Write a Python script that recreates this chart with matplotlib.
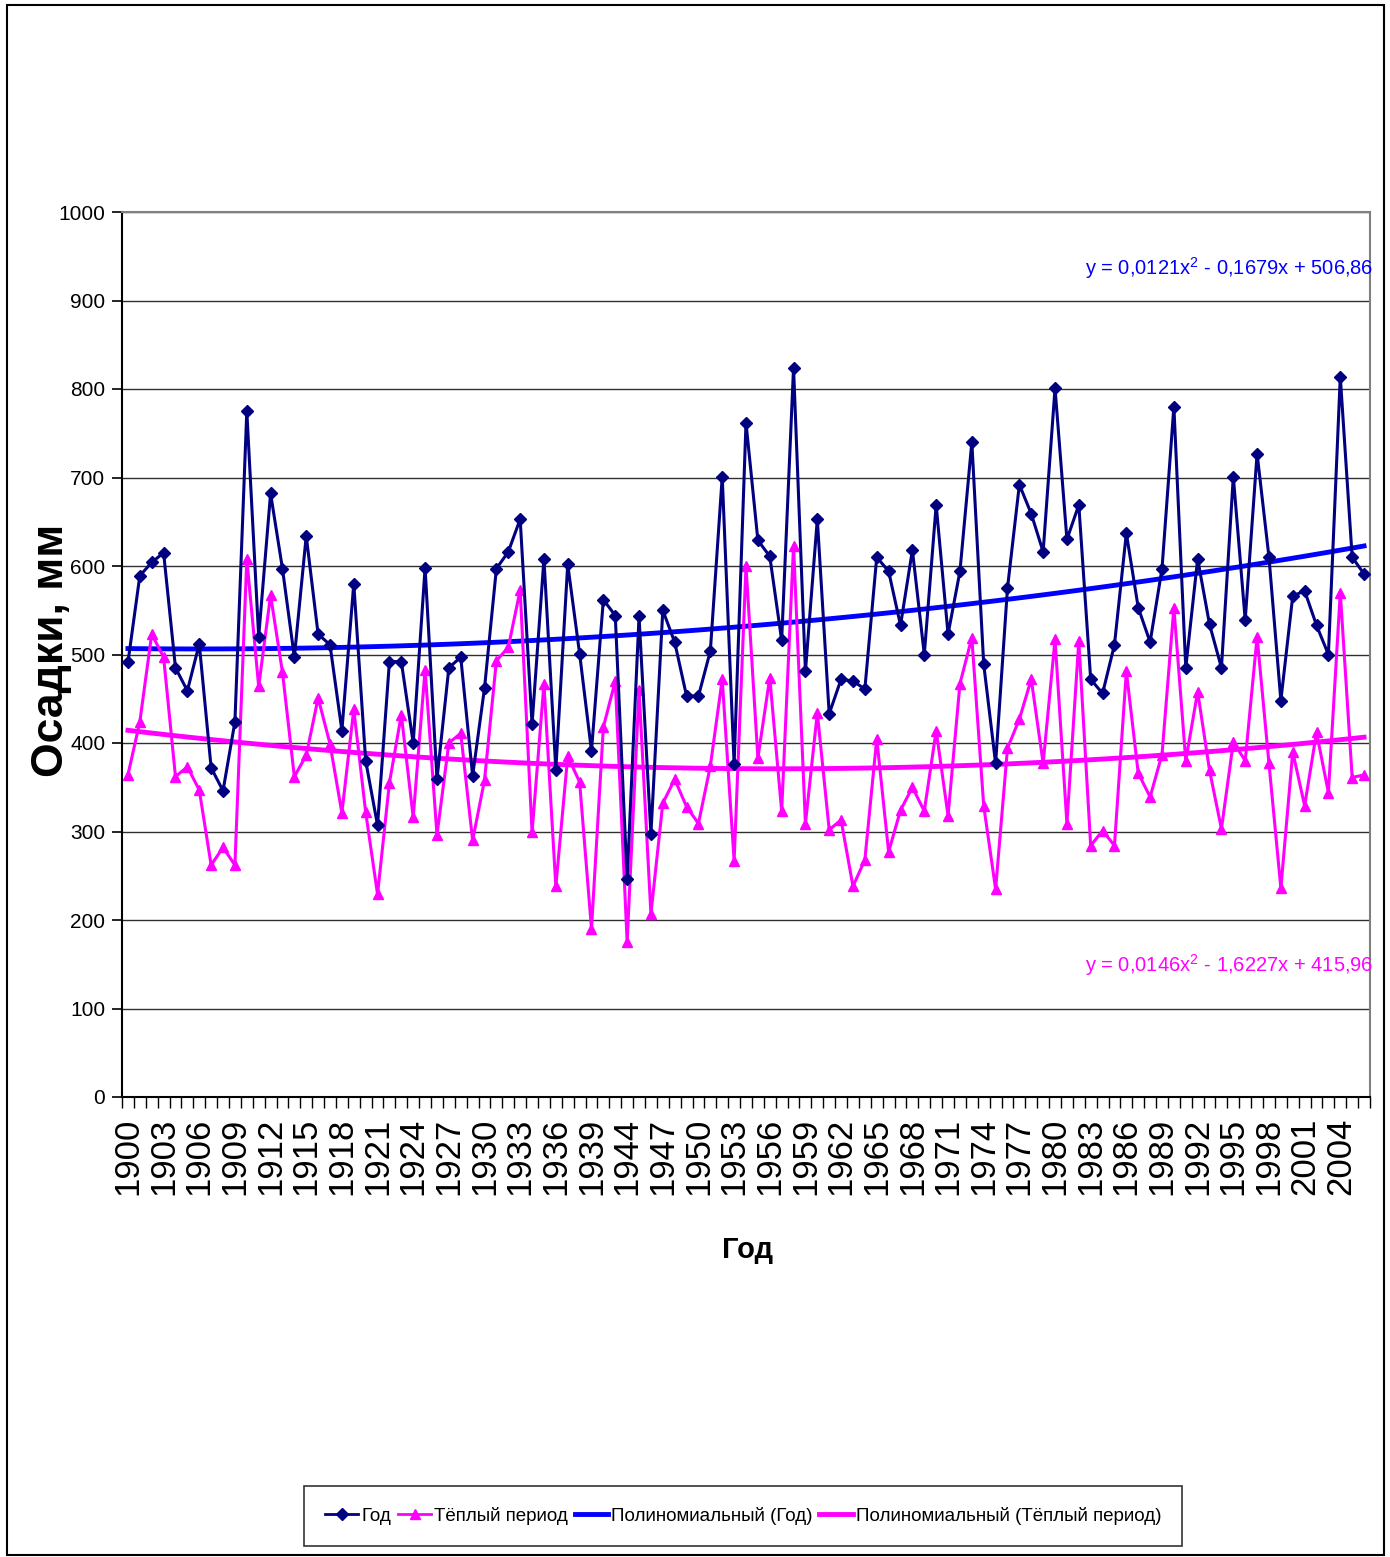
import numpy as np
import matplotlib
matplotlib.use('Agg')
import matplotlib.pyplot as plt
from matplotlib import rcParams
from matplotlib.lines import Line2D
from matplotlib.patches import Rectangle

# ======================
# Данные
# ======================
years = list(range(1900, 1942)) + list(range(1944, 2007))

god = [491, 589, 604, 615, 485, 459, 512, 372, 346, 424,
       775, 520, 682, 597, 497, 634, 523, 511, 414, 580,
       380, 307, 492, 492, 400, 598, 359, 485, 497, 363,
       462, 597, 616, 653, 421, 608, 370, 602, 501, 391,
       562, 544, 246, 543, 297, 550, 514, 453, 453, 504,
       701, 376, 762, 629, 611, 516, 824, 481, 653, 433,
       472, 470, 461, 610, 594, 533, 618, 500, 669, 523,
       594, 740, 489, 377, 575, 692, 659, 616, 801, 630,
       669, 472, 456, 511, 637, 553, 514, 597, 780, 485,
       608, 534, 485, 701, 539, 727, 610, 448, 566, 572,
       533, 500, 814, 610, 591]

teplyi = [364, 424, 523, 497, 362, 373, 347, 262, 282, 262,
          608, 464, 567, 480, 362, 386, 451, 399, 321, 438,
          322, 229, 355, 432, 316, 483, 296, 400, 411, 290,
          358, 493, 508, 573, 299, 467, 238, 385, 356, 190,
          418, 470, 175, 460, 207, 332, 359, 328, 309, 374,
          472, 267, 600, 383, 474, 323, 623, 309, 434, 302,
          313, 238, 268, 405, 277, 324, 350, 323, 414, 318,
          467, 519, 329, 235, 394, 427, 472, 377, 517, 309,
          515, 284, 301, 284, 481, 366, 339, 387, 553, 380,
          458, 369, 303, 401, 380, 520, 377, 236, 390, 329,
          412, 344, 570, 361, 364]

# коэффициенты полиномиальных трендов (как на диаграмме)
coef_god = [0.0121, -0.1679, 506.86]
coef_tepl = [0.0146, -1.6227, 415.96]
eq_god = 'y = 0,0121x$^{2}$ - 0,1679x + 506,86'
eq_tepl = 'y = 0,0146x$^{2}$ - 1,6227x + 415,96'

# ======================
# Стиль
# ======================
rcParams['font.family'] = ['Liberation Sans', 'DejaVu Sans']
rcParams['mathtext.fontset'] = 'custom'
rcParams['mathtext.rm'] = 'Liberation Sans'

navy = '#000080'
magenta = '#FF00FF'
blue = '#0000FF'

fig = plt.figure(figsize=(13.9, 15.57), dpi=100)
fig.set_facecolor('white')
ax = fig.add_axes([122 / 1390, 1 - 1097 / 1557, 1248 / 1390, 885 / 1557])

idx = np.arange(len(years))
xx = idx + 1.0
trend_god = np.polyval(coef_god, xx)
trend_tepl = np.polyval(coef_tepl, xx)

# сетка
for v in range(100, 1001, 100):
    ax.axhline(v, color='#303030', linewidth=1.0, zorder=1)

# тренды
ax.plot(idx, trend_god, color=blue, linewidth=3.5, zorder=3)
ax.plot(idx, trend_tepl, color=magenta, linewidth=3.5, zorder=3)

# ряды
ax.plot(idx, god, color=navy, linewidth=2.2, marker='D', markersize=6,
        markerfacecolor=navy, markeredgecolor=navy, zorder=5)
ax.plot(idx, teplyi, color=magenta, linewidth=2.2, marker='^', markersize=7,
        markerfacecolor=magenta, markeredgecolor=magenta, zorder=4)

# оси
ax.set_xlim(-0.5, len(years) - 0.5)
ax.set_ylim(0, 1000)
ax.set_yticks(range(0, 1001, 100))
ax.set_yticklabels([str(v) for v in range(0, 1001, 100)], fontsize=15)
ax.tick_params(axis='y', direction='out', length=7, width=1.2, pad=5)

lab_idx = idx[::3]
ax.set_xticks(lab_idx)
ax.set_xticklabels([str(years[i]) for i in lab_idx], rotation=90, fontsize=25)
ax.set_xticks(np.arange(-0.5, len(years)), minor=True)
ax.tick_params(axis='x', which='major', length=0, pad=15)
ax.tick_params(axis='x', which='minor', direction='out', length=8, width=1.0)

ax.spines['left'].set_color('black')
ax.spines['bottom'].set_color('black')
ax.spines['left'].set_linewidth(1.5)
ax.spines['bottom'].set_linewidth(1.5)
ax.spines['top'].set_color('#808080')
ax.spines['right'].set_color('#808080')
ax.spines['top'].set_linewidth(1.5)
ax.spines['right'].set_linewidth(1.5)

# уравнения трендов
ax.text(1.0025, 0.937, eq_god, transform=ax.transAxes, ha='right', va='center',
        color=blue, fontsize=14.5)
ax.text(1.0025, 0.149, eq_tepl, transform=ax.transAxes, ha='right', va='center',
        color=magenta, fontsize=14.5)

# подписи осей
fig.text(747 / 1390, 1 - 1250 / 1557, 'Год', ha='center', va='center',
         fontsize=21, fontweight='bold')
fig.text(72 / 1390, 1 - 650 / 1557, 'Осадки, мм', rotation=90,
         ha='right', va='center', fontsize=32, fontweight='bold')

# легенда
handles = [
    Line2D([], [], color=navy, linewidth=2, marker='D', markersize=6),
    Line2D([], [], color=magenta, linewidth=2, marker='^', markersize=7),
    Line2D([], [], color=blue, linewidth=3.5),
    Line2D([], [], color=magenta, linewidth=3.5),
]
labels = ['Год', 'Тёплый период', 'Полиномиальный (Год)',
          'Полиномиальный (Тёплый период)']
leg = fig.legend(handles, labels, loc='center', bbox_to_anchor=(743 / 1390, 1 - 1516 / 1557),
                 ncol=4, fontsize=13.5, frameon=True, fancybox=False, edgecolor='black',
                 handlelength=1.8, handletextpad=0.15, columnspacing=0.35,
                 borderpad=1.1, borderaxespad=0)
leg.get_frame().set_linewidth(1.2)

# рамка диаграммы
fig.patches.append(Rectangle((7 / 1390, 2 / 1557), 1377 / 1390, 1550 / 1557,
                             transform=fig.transFigure, fill=False,
                             edgecolor='black', linewidth=1.5))

plt.savefig('out.png', dpi=100, facecolor='white')
